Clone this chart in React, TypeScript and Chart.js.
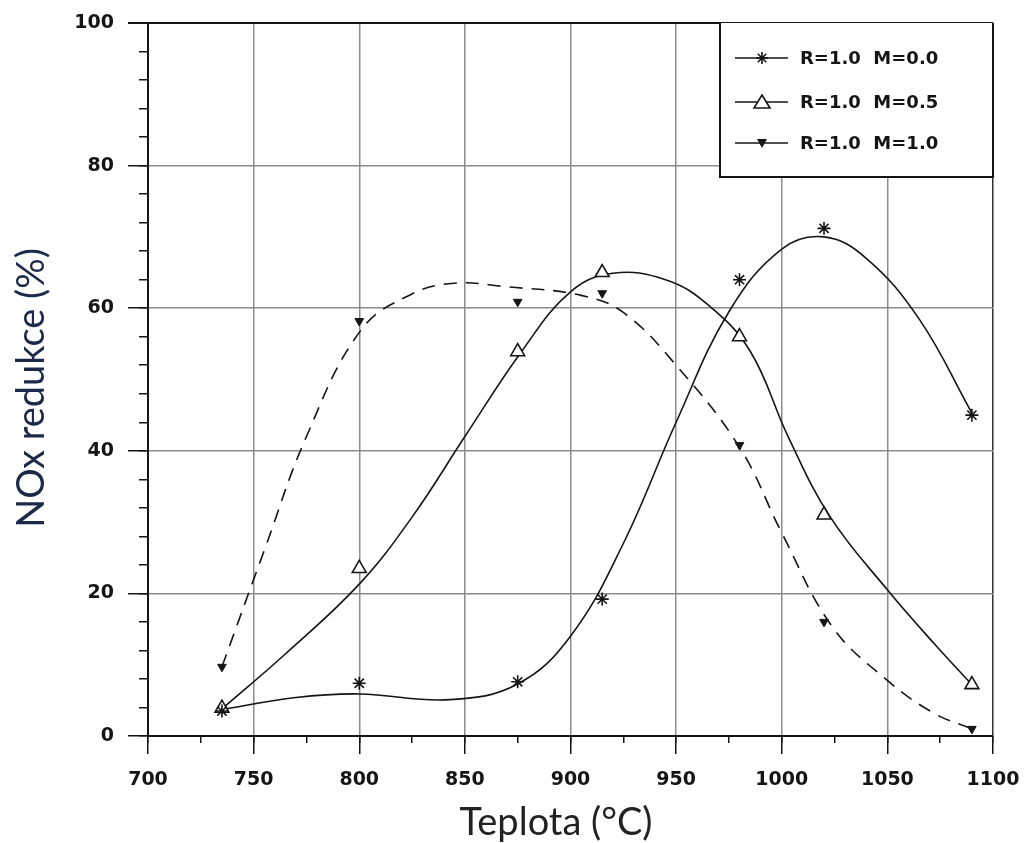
import React, { useEffect, useRef } from "react";
import { Chart, registerables } from "chart.js";

Chart.register(...registerables);

// ---- measured data (temperature °C, NOx reduction %) ----
const temperatures = [735, 800, 875, 915, 980, 1020, 1090];
const reductionM00 = [3.5, 7.4, 7.6, 19.2, 64, 71.2, 45];
const reductionM05 = [3.9, 23.5, 53.9, 65, 56, 31, 7.2];
const reductionM10 = [9.7, 58.2, 60.9, 62.1, 40.8, 16, 1.0];

// ---- fitted curves as drawn on the original plot ----
const curveM00Temp = [735, 770, 800, 843, 875, 900, 925, 950, 975, 1000, 1020, 1040, 1065, 1090];
const curveM00Value = [3.7, 5.4, 5.9, 5.1, 7.3, 14, 27, 44, 59.5, 68.3, 70, 67, 58.5, 45.3];

const curveM05Temp = [735, 765, 800, 825, 850, 877, 900, 920, 945, 965, 985, 1003, 1023, 1050, 1072, 1090];
const curveM05Value = [3.8, 11.5, 21.3, 30.7, 42, 54, 62.3, 64.9, 64, 60.5, 54, 42, 30.7, 20.5, 13, 7.2];

const curveM10Temp = [735, 755, 775, 801, 825, 845, 870, 905, 925, 950, 980, 1000, 1024, 1050, 1072, 1090];
const curveM10Value = [9.7, 26, 42, 57, 62, 63.5, 63, 61.8, 59.4, 52, 40.5, 28.5, 15.3, 7.8, 3.2, 1.0];

const seriesLabels = ["R=1.0  M=0.0", "R=1.0  M=0.5", "R=1.0  M=1.0"];
const xAxisTitle = "Teplota (°C)";
const yAxisTitle = "NOx redukce (%)";

const TICK_FONT = { family: "'DejaVu Sans', sans-serif", size: 19, weight: "bold" as const };
const GRID_GRAY = "#8c8c8c";
const INK = "#151515";

function pts(xs: number[], ys: number[]) {
  return xs.map((x, i) => ({ x, y: ys[i] }));
}

function drawMarker(ctx: CanvasRenderingContext2D, kind: number, x: number, y: number) {
  ctx.save();
  ctx.strokeStyle = INK;
  ctx.fillStyle = INK;
  ctx.lineWidth = 1.6;
  if (kind === 0) {
    const r = 6;
    ctx.beginPath();
    for (let i = 0; i < 4; i++) {
      const a = (Math.PI / 4) * i;
      ctx.moveTo(x - r * Math.cos(a), y - r * Math.sin(a));
      ctx.lineTo(x + r * Math.cos(a), y + r * Math.sin(a));
    }
    ctx.stroke();
  } else if (kind === 1) {
    ctx.fillStyle = "#fff";
    ctx.beginPath();
    ctx.moveTo(x, y - 7);
    ctx.lineTo(x + 8, y + 6);
    ctx.lineTo(x - 8, y + 6);
    ctx.closePath();
    ctx.fill();
    ctx.stroke();
  } else {
    ctx.beginPath();
    ctx.moveTo(x - 5, y - 4);
    ctx.lineTo(x + 5, y - 4);
    ctx.lineTo(x, y + 5);
    ctx.closePath();
    ctx.fill();
  }
  ctx.restore();
}

const legendBoxPlugin = {
  id: "legendBox",
  afterDatasetsDraw(chart: any) {
    const { ctx, chartArea } = chart;
    const w = 273;
    const h = 154;
    const left = chartArea.right - w;
    const top = chartArea.top;
    ctx.save();
    ctx.fillStyle = "#fff";
    ctx.fillRect(left, top, w, h);
    ctx.strokeStyle = INK;
    ctx.lineWidth = 2;
    ctx.beginPath();
    ctx.moveTo(left, top);
    ctx.lineTo(left, top + h);
    ctx.lineTo(left + w, top + h);
    ctx.lineTo(left + w, top);
    ctx.stroke();
    const rows = [35, 79, 120];
    seriesLabels.forEach((label, i) => {
      const y = top + rows[i];
      ctx.strokeStyle = INK;
      ctx.lineWidth = 1.6;
      ctx.beginPath();
      ctx.moveTo(left + 15, y);
      ctx.lineTo(left + 68, y);
      ctx.stroke();
      drawMarker(ctx, i, left + 42, y);
      ctx.fillStyle = INK;
      ctx.font = "bold 18px 'DejaVu Sans', sans-serif";
      ctx.textAlign = "left";
      ctx.textBaseline = "middle";
      ctx.fillText(label, left + 80, y + 1);
    });
    ctx.restore();
  },
};

const axisTitlesPlugin = {
  id: "axisTitles",
  afterDraw(chart: any) {
    const { ctx } = chart;
    ctx.save();
    ctx.font = "38px Lato, 'Open Sans', sans-serif";
    ctx.textAlign = "center";
    ctx.textBaseline = "alphabetic";
    ctx.fillStyle = "#222";
    ctx.fillText(xAxisTitle, 556, 835);
    ctx.translate(44, 388);
    ctx.rotate(-Math.PI / 2);
    ctx.fillStyle = "#1c2a4a";
    ctx.fillText(yAxisTitle, 0, 0);
    ctx.restore();
  },
};

const plainLabel = (v: any) => String(v);

export default function App() {
  const canvasRef = useRef<HTMLCanvasElement | null>(null);

  useEffect(() => {
    if (!canvasRef.current) return;
    const markerBase = {
      showLine: false,
      borderColor: INK,
      borderWidth: 1.6,
      pointHoverRadius: 0,
    };
    const curveBase = {
      borderColor: INK,
      borderWidth: 1.6,
      pointRadius: 0,
      fill: false,
      tension: 0.4,
    };
    const chart = new Chart(canvasRef.current, {
      type: "line",
      data: {
        datasets: [
          {
            ...markerBase,
            label: seriesLabels[0],
            data: pts(temperatures, reductionM00),
            pointStyle: "star",
            pointRadius: 6.5,
            pointBackgroundColor: INK,
            pointBorderColor: INK,
            order: 1,
          },
          {
            ...markerBase,
            label: seriesLabels[1],
            data: pts(temperatures, reductionM05),
            pointStyle: "triangle",
            pointRadius: 8,
            pointBackgroundColor: "#fff",
            pointBorderColor: INK,
            order: 2,
          },
          {
            ...markerBase,
            label: seriesLabels[2],
            data: pts(temperatures, reductionM10),
            pointStyle: "triangle",
            rotation: 180,
            pointRadius: 5,
            pointBackgroundColor: INK,
            pointBorderColor: INK,
            borderWidth: 1,
            order: 0,
          },
          { ...curveBase, label: "", data: pts(curveM00Temp, curveM00Value), order: 5 },
          { ...curveBase, label: "", data: pts(curveM05Temp, curveM05Value), order: 5 },
          {
            ...curveBase,
            label: "",
            data: pts(curveM10Temp, curveM10Value),
            borderDash: [13, 9],
            order: 5,
          },
        ],
      },
      options: {
        animation: false,
        responsive: true,
        maintainAspectRatio: false,
        layout: { padding: { left: 0, top: 23, right: 32, bottom: 0 } },
        plugins: {
          legend: { display: false },
          tooltip: { enabled: false },
        },
        scales: {
          x: {
            type: "linear",
            position: "bottom",
            weight: 1,
            min: 700,
            max: 1100,
            ticks: { stepSize: 50, font: TICK_FONT, color: INK, padding: 15, maxRotation: 0, callback: plainLabel },
            grid: {
              color: (c: any) => (c.tick && c.tick.value === 1100 ? "#333" : GRID_GRAY),
              lineWidth: 1.5,
              tickColor: INK,
              tickLength: 18,
            },
            border: { display: true, color: INK, width: 2 },
            afterFit: (s: any) => {
              s.height = 107;
              s.paddingLeft = 0;
              s.paddingRight = 0;
            },
          },
          xMinor: {
            type: "linear",
            position: "bottom",
            weight: 0,
            min: 700,
            max: 1100,
            ticks: { stepSize: 25, display: false },
            grid: { drawOnChartArea: false, tickLength: 7, tickColor: INK, lineWidth: 1.5 },
            border: { display: false },
            afterFit: (s: any) => {
              s.height = 0;
              s.paddingLeft = 0;
              s.paddingRight = 0;
            },
          },
          y: {
            type: "linear",
            position: "left",
            weight: 1,
            min: 0,
            max: 100,
            ticks: { stepSize: 20, font: TICK_FONT, color: INK, padding: 14, callback: plainLabel },
            grid: {
              color: (c: any) => (c.tick && c.tick.value === 100 ? INK : GRID_GRAY),
              lineWidth: (c: any) => (c.tick && c.tick.value === 100 ? 2 : 1.5),
              tickColor: INK,
              tickLength: 20,
            },
            border: { display: true, color: INK, width: 2 },
            afterFit: (s: any) => {
              s.width = 148;
              s.paddingTop = 0;
              s.paddingBottom = 0;
            },
          },
          yMinor: {
            type: "linear",
            position: "left",
            weight: 0,
            min: 0,
            max: 100,
            ticks: { stepSize: 4, display: false },
            grid: { drawOnChartArea: false, tickLength: 9, tickColor: INK, lineWidth: 1.5 },
            border: { display: false },
            afterFit: (s: any) => {
              s.width = 0;
              s.paddingTop = 0;
              s.paddingBottom = 0;
            },
          },
        },
      },
      plugins: [legendBoxPlugin, axisTitlesPlugin],
    });
    return () => chart.destroy();
  }, []);

  return (
    <div style={{ position: "absolute", left: 0, top: 0, width: 1025, height: 843, background: "#fff" }}>
      <canvas ref={canvasRef} />
    </div>
  );
}
